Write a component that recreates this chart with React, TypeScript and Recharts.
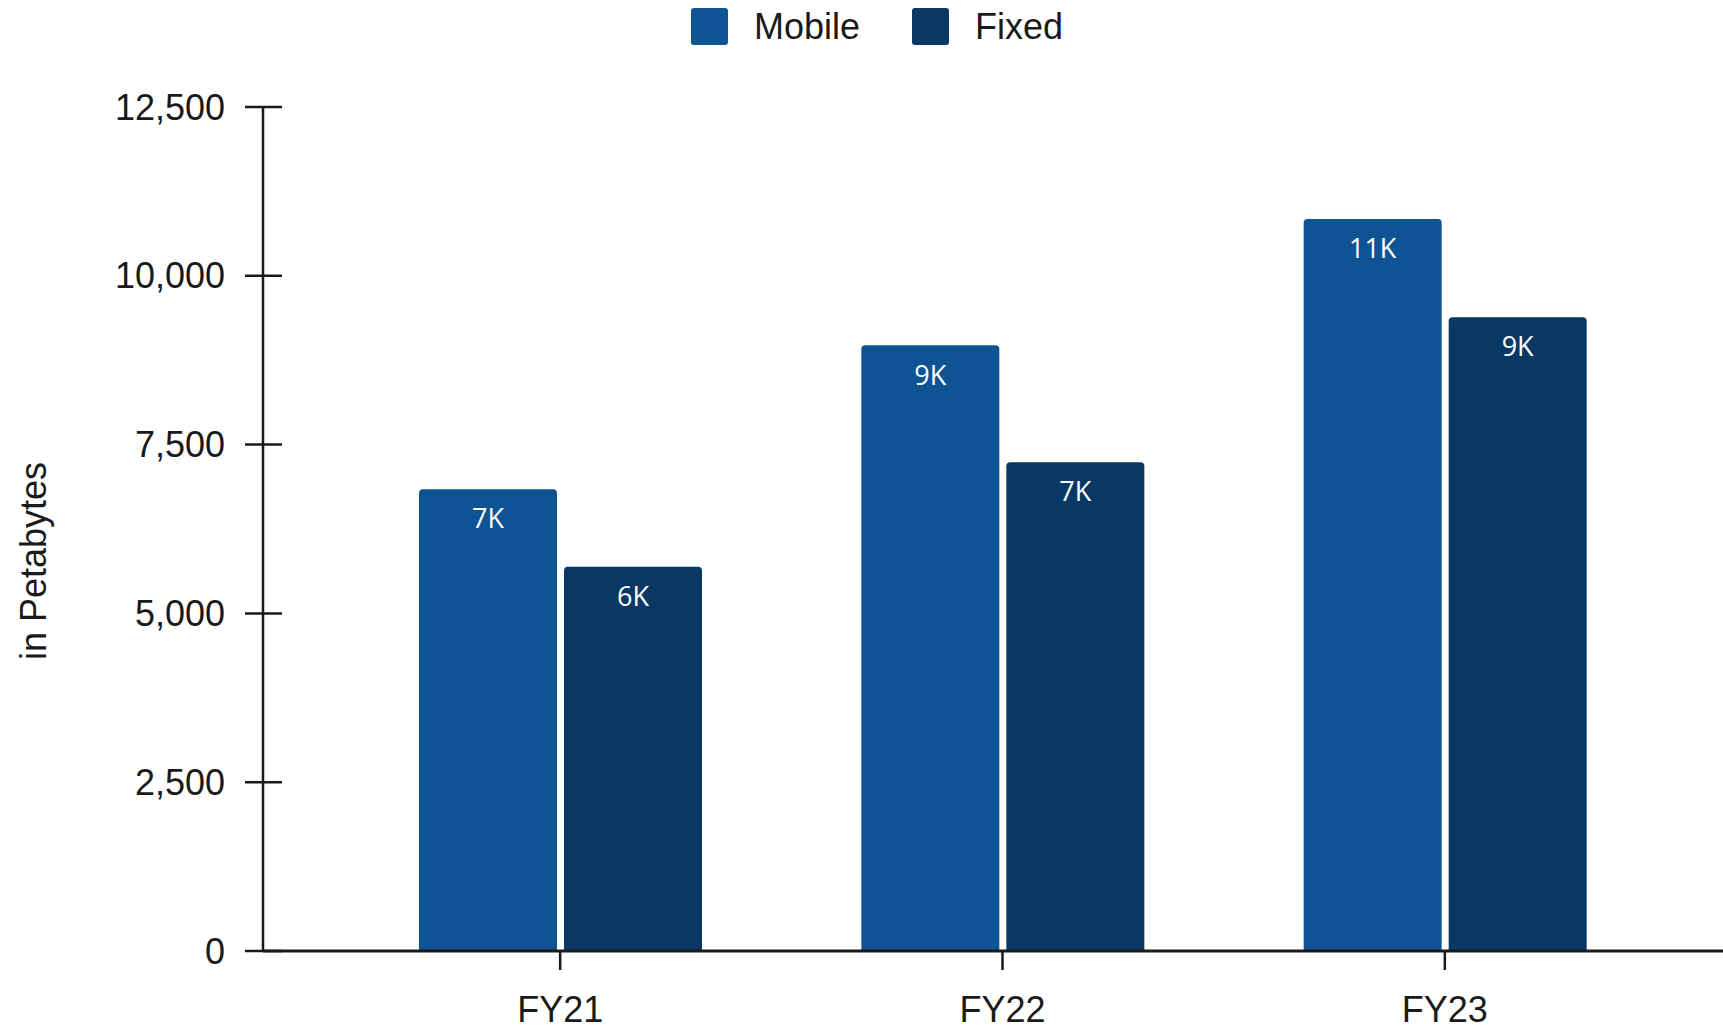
import React from "react";
import { BarChart, Bar, XAxis, YAxis, Legend, LabelList } from "recharts";

// Data traffic by fiscal year, in petabytes
const categories = ["FY21", "FY22", "FY23"];
const mobileValues = [6840, 8970, 10840];
const fixedValues = [5690, 7240, 9385];
const yTicks = [0, 2500, 5000, 7500, 10000, 12500];

const seriesNames = ["Mobile", "Fixed"];
const seriesColors = ["#0E5394", "#0A3864"];

const data = categories.map((c, i) => ({
  name: c,
  Mobile: mobileValues[i],
  Fixed: fixedValues[i],
}));

const AXIS_FONT = "'Liberation Sans', Arial, Helvetica, sans-serif";
const LABEL_FONT = "'Open Sans', 'Noto Sans', sans-serif";
const INK = "#1a1a1a";
const TEXT_SIZE = 36;

const formatThousands = (v: number) => v.toLocaleString("en-US");
const formatK = (v: number) => `${Math.round(v / 1000)}K`;

// Y tick: a line crossing the axis on both sides, plus the value on the left
const YTick = (props: any) => {
  const { x, y, payload } = props;
  return (
    <g>
      <line x1={x - 18} x2={x + 19} y1={y} y2={y} stroke={INK} strokeWidth={2.5} />
      <text
        x={x - 38}
        y={y}
        textAnchor="end"
        dominantBaseline="central"
        fontFamily={AXIS_FONT}
        fontSize={TEXT_SIZE}
        fill={INK}
      >
        {formatThousands(payload.value)}
      </text>
    </g>
  );
};

const YTitle = (props: any) => {
  const { viewBox } = props;
  const x = viewBox.x + 46;
  const y = viewBox.y + viewBox.height / 2 + 32;
  return (
    <text
      x={x}
      y={y}
      transform={`rotate(-90, ${x}, ${y})`}
      textAnchor="middle"
      fontFamily={AXIS_FONT}
      fontSize={TEXT_SIZE}
      fill={INK}
    >
      in Petabytes
    </text>
  );
};

const LegendContent = () => (
  <div
    style={{
      display: "flex",
      alignItems: "center",
      height: 53,
      paddingLeft: 691,
      fontFamily: AXIS_FONT,
      fontSize: TEXT_SIZE,
      color: INK,
    }}
  >
    {seriesNames.map((name, i) => (
      <div key={name} style={{ display: "flex", alignItems: "center", marginRight: 52 }}>
        <div
          style={{
            width: 37,
            height: 37,
            borderRadius: 3,
            background: seriesColors[i],
            marginRight: 26,
          }}
        />
        <span>{name}</span>
      </div>
    ))}
  </div>
);

export default function App() {
  return (
    <div style={{ position: "absolute", left: 0, top: 0, background: "#fff" }}>
      <BarChart
        width={1723}
        height={1027}
        data={data}
        margin={{ top: 107, right: 0, bottom: 0, left: 0 }}
        barSize={138}
        barGap={7}
      >
        <Legend
          verticalAlign="middle"
          align="center"
          layout="horizontal"
          content={<LegendContent />}
          wrapperStyle={{ top: 0, left: 0, width: 1723, height: 53 }}
        />
        <XAxis
          dataKey="name"
          height={76}
          padding={{ left: 76, right: 57 }}
          axisLine={{ stroke: INK, strokeWidth: 3 }}
          tickLine={{ stroke: INK, strokeWidth: 2.5 }}
          tickSize={19}
          tickMargin={26}
          tick={{ fontFamily: AXIS_FONT, fontSize: TEXT_SIZE, fill: INK }}
        />
        <YAxis
          width={263}
          domain={[0, 12500]}
          ticks={yTicks}
          interval={0}
          axisLine={{ stroke: INK, strokeWidth: 2.5 }}
          tickLine={false}
          tickSize={0}
          tickMargin={0}
          tick={<YTick />}
          label={<YTitle />}
        />
        {seriesNames.map((name, i) => (
          <Bar
            key={name}
            dataKey={name}
            fill={seriesColors[i]}
            radius={[4, 4, 0, 0]}
            isAnimationActive={false}
          >
            <LabelList
              dataKey={name}
              position="insideTop"
              offset={20}
              formatter={(v: any) => formatK(Number(v))}
              fill="#ffffff"
              fontFamily={LABEL_FONT}
              fontSize={27}
            />
          </Bar>
        ))}
      </BarChart>
    </div>
  );
}
